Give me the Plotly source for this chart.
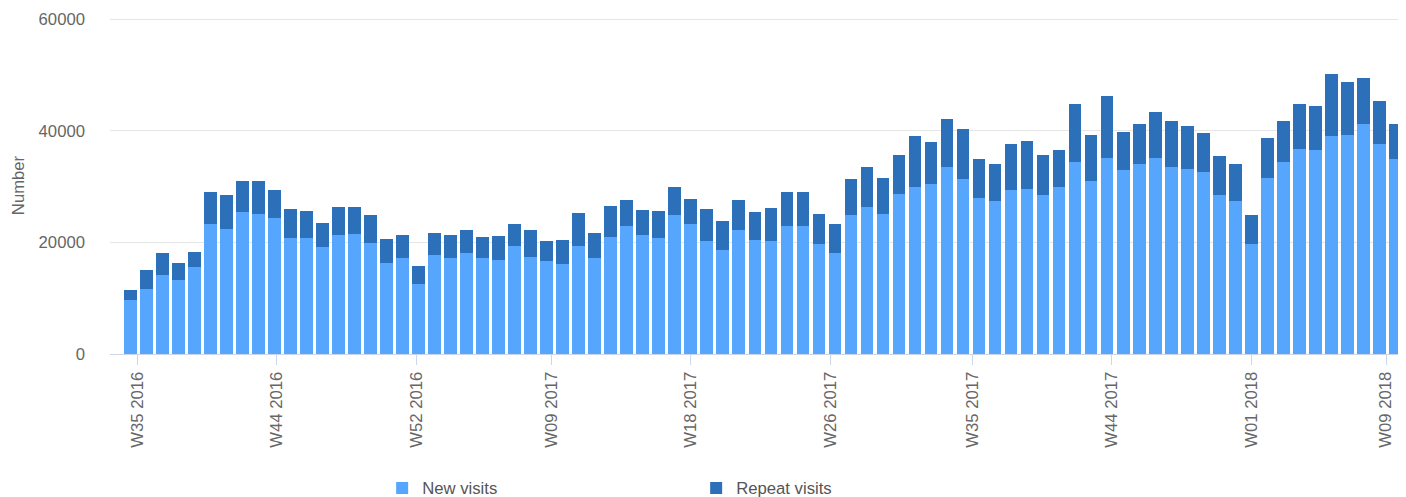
import plotly.graph_objects as go

# Week start dates (Mondays), ISO weeks W35 2016 .. W10 2018
weeks = [
    "2016-08-29", "2016-09-05", "2016-09-12", "2016-09-19", "2016-09-26", "2016-10-03",
    "2016-10-10", "2016-10-17", "2016-10-24", "2016-10-31", "2016-11-07", "2016-11-14",
    "2016-11-21", "2016-11-28", "2016-12-05", "2016-12-12", "2016-12-19", "2016-12-26",
    "2017-01-02", "2017-01-09", "2017-01-16", "2017-01-23", "2017-01-30", "2017-02-06",
    "2017-02-13", "2017-02-20", "2017-02-27", "2017-03-06", "2017-03-13", "2017-03-20",
    "2017-03-27", "2017-04-03", "2017-04-10", "2017-04-17", "2017-04-24", "2017-05-01",
    "2017-05-08", "2017-05-15", "2017-05-22", "2017-05-29", "2017-06-05", "2017-06-12",
    "2017-06-19", "2017-06-26", "2017-07-03", "2017-07-10", "2017-07-17", "2017-07-24",
    "2017-07-31", "2017-08-07", "2017-08-14", "2017-08-21", "2017-08-28", "2017-09-04",
    "2017-09-11", "2017-09-18", "2017-09-25", "2017-10-02", "2017-10-09", "2017-10-16",
    "2017-10-23", "2017-10-30", "2017-11-06", "2017-11-13", "2017-11-20", "2017-11-27",
    "2017-12-04", "2017-12-11", "2017-12-18", "2017-12-25", "2018-01-01", "2018-01-08",
    "2018-01-15", "2018-01-22", "2018-01-29", "2018-02-05", "2018-02-12", "2018-02-19",
    "2018-02-26", "2018-03-05",
]

new_visits = [
    9640, 11610, 14110, 13210, 15540, 23210, 22320, 25360, 25000, 24280,
    20710, 20710, 19110, 21250, 21430, 19820, 16250, 17140, 12500, 17680,
    17140, 18040, 17140, 16790, 19280, 17320, 16610, 16070, 19280, 17140,
    20890, 22860, 21250, 20710, 24820, 23210, 20180, 18570, 22140, 20360,
    20180, 22860, 22860, 19640, 18040, 24820, 26250, 25000, 28570, 30000,
    30530, 33570, 31430, 28030, 27320, 29460, 29640, 28390, 30000, 34460,
    31070, 35180, 33030, 34110, 35180, 33570, 33210, 32680, 28390, 27320,
    19640, 31610, 34460, 36780, 36610, 39110, 39280, 41250, 37680, 35000,
]

repeat_visits = [
    1790, 3390, 3930, 3040, 2680, 5890, 6070, 5540, 6070, 5180,
    5180, 4820, 4290, 5000, 4820, 5000, 4290, 4110, 3210, 3930,
    4110, 4110, 3750, 4290, 3930, 4820, 3570, 4290, 5890, 4460,
    5540, 4640, 4460, 4820, 5180, 4640, 5710, 5180, 5360, 5000,
    5890, 6070, 6070, 5360, 5180, 6610, 7320, 6610, 7140, 9110,
    7500, 8570, 8930, 6960, 6790, 8210, 8570, 7320, 6610, 10360,
    8210, 11070, 6790, 7140, 8210, 8210, 7680, 6960, 7140, 6790,
    5180, 7140, 7320, 8040, 7860, 11070, 9460, 8210, 7680, 6250,
]

tick_dates = ["2016-09-01", "2016-11-01", "2017-01-01", "2017-03-01", "2017-05-01",
              "2017-07-01", "2017-09-01", "2017-11-01", "2018-01-01", "2018-03-01"]
tick_labels = ["W35 2016", "W44 2016", "W52 2016", "W09 2017", "W18 2017",
               "W26 2017", "W35 2017", "W44 2017", "W01 2018", "W09 2018"]

y_ticks = [0, 20000, 40000, 60000]

FONT = "Liberation Sans, Arial, Helvetica, sans-serif"

fig = go.Figure()
fig.add_trace(go.Bar(x=weeks, y=new_visits, name="New visits",
                     marker=dict(color="#56a6fe", line=dict(width=0))))
fig.add_trace(go.Bar(x=weeks, y=repeat_visits, name="Repeat visits",
                     marker=dict(color="#2d70ba", line=dict(width=0))))

# page body has an 8px default margin, so the figure is sized to end at the window edge
fig.update_layout(
    width=1398, height=489,
    barmode="stack", bargap=0.2,
    plot_bgcolor="white", paper_bgcolor="white",
    margin=dict(l=102, r=0, t=9, b=143, autoexpand=False),
    font=dict(family=FONT, size=16.7, color="#666666"),
    showlegend=True,
    legend=dict(orientation="h", x=0.210, xanchor="left", y=-0.398, yanchor="middle",
                entrywidth=269, entrywidthmode="pixels",
                font=dict(size=16.7, color="#555555"), traceorder="normal"),
    xaxis=dict(
        type="date", range=["2016-08-20", "2018-03-09 17:00"],
        tickvals=tick_dates, ticktext=tick_labels, tickangle=-90,
        ticks="outside", ticklen=10, tickcolor="#ccd6eb", tickwidth=1,
        showline=True, linecolor="#ccd6eb", linewidth=1,
        showgrid=False, zeroline=False, automargin=False,
        tickfont=dict(size=16.7, color="#666666"),
    ),
    yaxis=dict(
        range=[0, 60358], tickvals=y_ticks, ticktext=[str(v) for v in y_ticks],
        showgrid=True, gridcolor="#e6e6e6", gridwidth=1,
        zeroline=False, showline=False, automargin=False,
        ticks="", ticklabelstandoff=24,
        tickfont=dict(size=16.7, color="#666666"),
        title=dict(text="Number", standoff=9, font=dict(size=16.7, color="#666666")),
    ),
)

fig.write_html("out.html")
